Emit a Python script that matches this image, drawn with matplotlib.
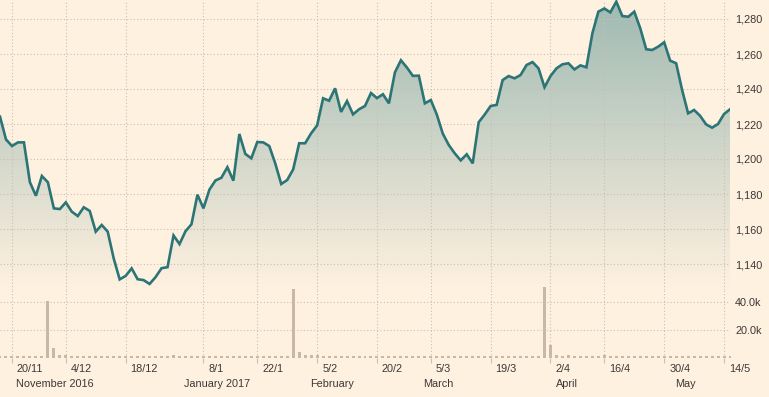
import numpy as np
import matplotlib
matplotlib.use("Agg")
import matplotlib.pyplot as plt
from matplotlib.transforms import offset_copy

# Gold price, one value per trading day (17 Nov 2016 .. 16 May 2017)
prices = [
    1224.2, 1211.2, 1207.4, 1209.5, 1209.5, 1186.7, 1179.0, 1190.3, 1186.7, 1171.8,
    1171.4, 1175.2, 1169.9, 1167.4, 1172.4, 1170.3, 1158.5, 1162.3, 1158.5, 1143.2,
    1131.2, 1133.2, 1137.5, 1131.3, 1130.8, 1128.6, 1132.5, 1137.6, 1138.2, 1156.3,
    1151.4, 1158.7, 1162.7, 1179.6, 1171.8, 1182.5, 1187.7, 1189.3, 1195.3, 1187.6,
    1214.3, 1202.9, 1200.4, 1209.7, 1209.5, 1207.4, 1197.5, 1185.7, 1188.0, 1194.1,
    1209.0, 1209.0, 1214.7, 1219.2, 1234.7, 1233.3, 1240.4, 1226.9, 1233.1, 1225.5,
    1228.4, 1230.3, 1237.7, 1234.8, 1237.0, 1231.8, 1249.5, 1256.4, 1252.3, 1247.5,
    1247.6, 1231.8, 1233.7, 1225.4, 1214.5, 1208.0, 1203.2, 1199.2, 1202.7, 1197.5,
    1221.0, 1225.4, 1230.3, 1230.9, 1245.1, 1247.4, 1246.1, 1248.0, 1253.7, 1255.4,
    1251.8, 1241.0, 1247.4, 1251.8, 1254.1, 1254.7, 1251.2, 1253.5, 1252.4, 1271.8,
    1284.2, 1286.0, 1283.8, 1289.9, 1281.7, 1281.3, 1284.2, 1274.7, 1262.7, 1262.3,
    1264.2, 1266.7, 1256.2, 1254.7, 1239.4, 1226.1, 1228.0, 1224.7, 1219.8, 1217.9,
    1220.0, 1225.7, 1228.4,
]

# Volume in thousands, same trading days
volumes = [
    1.0, 1.0, 1.0, 1.0, 1.0, 1.0, 1.0, 1.0, 40.7, 6.9,
    2.0, 1.8, 1.0, 1.0, 1.0, 1.0, 1.0, 1.0, 1.0, 1.0,
    1.0, 1.0, 1.0, 1.0, 1.0, 1.0, 1.0, 1.0, 1.0, 1.6,
    1.0, 1.0, 1.0, 1.0, 1.0, 1.0, 1.0, 1.0, 1.0, 1.0,
    1.0, 1.0, 1.0, 1.0, 1.0, 1.0, 1.0, 1.0, 1.0, 48.9,
    3.8, 2.0, 1.8, 1.6, 1.3, 1.0, 1.3, 1.0, 1.0, 1.0,
    1.0, 1.0, 1.0, 1.0, 1.0, 1.0, 1.0, 1.0, 1.0, 1.0,
    1.0, 1.0, 1.0, 1.0, 1.0, 1.0, 1.0, 1.0, 1.0, 1.0,
    1.0, 1.0, 1.0, 1.0, 1.0, 1.0, 1.0, 1.0, 1.0, 1.0,
    1.0, 50.1, 8.8, 1.8, 1.0, 1.6, 1.0, 1.0, 1.0, 1.0,
    1.0, 1.6, 1.0, 1.0, 1.0, 1.0, 1.0, 1.0, 1.0, 1.0,
    1.0, 1.0, 1.0, 1.0, 1.0, 1.0, 1.0, 1.0, 1.0, 1.0,
    1.0, 1.0, 1.0,
]

# Trading-day positions of the date ticks
tick_pos = [2, 11, 21, 34, 43, 53, 63, 72, 82, 92, 101, 111, 121]
tick_labels = ["20/11", "4/12", "18/12", "8/1", "22/1", "5/2", "20/2",
               "5/3", "19/3", "2/4", "16/4", "30/4", "14/5"]

month_pos = [9.2, 36.2, 55.5, 73.3, 94.7, 114.5]
month_labels = ["November 2016", "January 2017", "February", "March", "April", "May"]

price_ticks = [1140, 1160, 1180, 1200, 1220, 1240, 1260, 1280]
volume_ticks = [20, 40]

BG = "#fff1e0"
LINE = "#2b7576"
GRID = "#c9bfb2"
TEXT = "#3b3835"
BAR = "#c8b8a5"

plt.rcParams["font.family"] = ["Liberation Sans", "DejaVu Sans"]
plt.rcParams["font.size"] = 7.8

x = np.arange(len(prices))
p = np.array(prices)

W, H = 769, 397
fig = plt.figure(figsize=(W / 100, H / 100), dpi=100)
fig.patch.set_facecolor(BG)

right = 730 / W
base_px = 357.5   # volume baseline
split_px = 290    # boundary between price and volume panels

ax_p = fig.add_axes([0, 1 - split_px / H, right, split_px / H])
ax_v = fig.add_axes([0, 1 - base_px / H, right, (base_px - split_px) / H])

for ax in (ax_p, ax_v):
    ax.set_facecolor("none")
    for s in ax.spines.values():
        s.set_visible(False)
    ax.set_xlim(0, len(prices) - 1)
    ax.set_xticks(tick_pos)
    ax.grid(True, color=GRID, linestyle=(0, (1, 2)), linewidth=0.8)
    ax.set_axisbelow(False)
    ax.yaxis.tick_right()
    ax.tick_params(axis="y", length=0, pad=3.6, labelcolor=TEXT)

# price panel
y_top = 1280 + 19 / 1.75
y_bot = 1280 - (split_px - 19) / 1.75
ax_p.set_ylim(y_bot, y_top)
ax_p.set_yticks(price_ticks)
ax_p.set_yticklabels([f"{v:,}" for v in price_ticks])
ax_p.tick_params(axis="x", length=0, labelbottom=False)

# gradient fill under the line
top_rgb = np.array([0x9f, 0xba, 0xb2]) / 255
bg_rgb = np.array([0xff, 0xf1, 0xe0]) / 255
t = np.linspace(0, 1, 256)[:, None]
grad = (top_rgb[None, :] * (1 - t) + bg_rgb[None, :] * t)[:, None, :]
poly = ax_p.fill_between(x, p, y_bot - 10, facecolor="none", edgecolor="none")
im = ax_p.imshow(grad, extent=[0, len(prices) - 1, y_bot, y_top],
                 aspect="auto", origin="upper", zorder=0)
im.set_clip_path(poly.get_paths()[0], transform=ax_p.transData)
ax_p.plot(x, p, color=LINE, linewidth=1.9, zorder=3, solid_joinstyle="miter")
ax_p.set_xlim(0, len(prices) - 1)
ax_p.set_ylim(y_bot, y_top)

# volume panel
ax_v.set_ylim(0, (base_px - split_px) / 28 * 20)
ax_v.set_yticks(volume_ticks)
ax_v.set_yticklabels([f"{v:.1f}k" for v in volume_ticks])
ax_v.bar(x, volumes, width=0.5, color=BAR, clip_on=False, zorder=3)
ax_v.tick_params(axis="x", direction="out", length=3.6, width=0.8,
                 color=GRID, labelbottom=False)

# date and month labels under the axis
trans = ax_v.get_xaxis_transform()
date_tr = offset_copy(trans, fig=fig, x=5, y=-11.5, units="dots")
month_tr = offset_copy(trans, fig=fig, x=0, y=-26.5, units="dots")
for pos, lab in zip(tick_pos, tick_labels):
    ax_v.text(pos, 0, lab, transform=date_tr, ha="left", va="center", color=TEXT)
for pos, lab in zip(month_pos, month_labels):
    ax_v.text(pos, 0, lab, transform=month_tr, ha="center", va="center", color=TEXT)

fig.savefig("out.png", dpi=100, facecolor=BG)
